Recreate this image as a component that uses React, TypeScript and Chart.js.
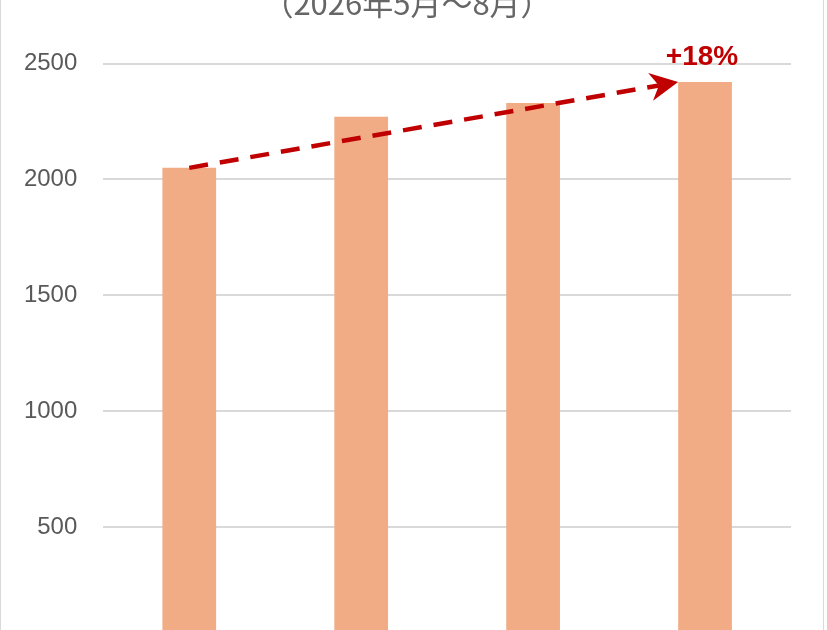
import { useEffect, useRef } from "react"
import { Chart, registerables } from "chart.js"
import type { Plugin } from "chart.js"

Chart.register(...registerables)

const months = ["5月", "6月", "7月", "8月"]
const sales = [2050, 2270, 2330, 2420]
const yMin = 0
const yMax = 2500
const yStep = 500
const titleText = "（2026年5月～8月）"
const growthLabel = "+18%"

const FONT = "'Liberation Sans', 'Noto Sans CJK JP', sans-serif"
const CJK_FONT = "'Noto Sans CJK JP', 'Liberation Sans', sans-serif"
const RED = "#C00000"

// dashed trend arrow from the first bar top to the last bar's left corner, plus the growth label
const growthArrow: Plugin<"bar"> = {
  id: "growthArrow",
  afterDatasetsDraw(chart) {
    const meta = chart.getDatasetMeta(0)
    const first = meta.data[0] as any
    const last = meta.data[meta.data.length - 1] as any
    if (!first || !last) return
    const ctx = chart.ctx
    const x0 = first.x
    const y0 = first.y
    const x1 = last.x - last.width / 2
    const y1 = last.y

    const len = Math.hypot(x1 - x0, y1 - y0)
    const dx = (x1 - x0) / len
    const dy = (y1 - y0) / len
    const nx = -dy
    const ny = dx
    const L = 28
    const W = 14
    const notchX = x1 - dx * L * 0.7
    const notchY = y1 - dy * L * 0.7

    ctx.save()
    ctx.strokeStyle = RED
    ctx.lineWidth = 4.5
    ctx.setLineDash([19, 12])
    ctx.beginPath()
    ctx.moveTo(x0, y0)
    ctx.lineTo(notchX, notchY)
    ctx.stroke()

    ctx.setLineDash([])
    ctx.fillStyle = RED
    ctx.beginPath()
    ctx.moveTo(x1, y1)
    ctx.lineTo(x1 - dx * L + nx * W, y1 - dy * L + ny * W)
    ctx.lineTo(notchX, notchY)
    ctx.lineTo(x1 - dx * L - nx * W, y1 - dy * L - ny * W)
    ctx.closePath()
    ctx.fill()

    ctx.font = `bold 28px ${FONT}`
    ctx.textAlign = "center"
    ctx.textBaseline = "alphabetic"
    ctx.fillText(growthLabel, last.x - 3, chart.scales.y.getPixelForValue(yMax) + 1)
    ctx.restore()
  },
}

function SalesChart() {
  const canvasRef = useRef<HTMLCanvasElement>(null)
  const chartRef = useRef<Chart | null>(null)

  useEffect(() => {
    if (!canvasRef.current) return
    if (chartRef.current) chartRef.current.destroy()

    chartRef.current = new Chart(canvasRef.current, {
      type: "bar",
      data: {
        labels: months,
        datasets: [
          {
            label: "売上",
            data: sales,
            backgroundColor: "#F1AC86",
            borderWidth: 0,
            barPercentage: 0.3125,
            categoryPercentage: 1,
          },
        ],
      },
      options: {
        animation: false,
        responsive: true,
        maintainAspectRatio: false,
        layout: { padding: { top: 0, left: 22, right: 32, bottom: 27.7 } },
        plugins: {
          legend: { display: false },
          tooltip: { enabled: false },
          title: {
            display: true,
            text: titleText,
            color: "#666666",
            font: { family: CJK_FONT, size: 31, weight: "normal", lineHeight: 1.2 },
            padding: { top: 33.5, bottom: 41.8 },
          },
        },
        scales: {
          x: {
            grid: { display: false, drawTicks: false },
            border: { color: "#D9D9D9", width: 2 },
            ticks: { color: "#595959", font: { family: CJK_FONT, size: 24 }, padding: 8 },
            afterFit: (s) => {
              s.height = 40
            },
          },
          y: {
            min: yMin,
            max: yMax,
            grid: { color: "#D9D9D9", lineWidth: 2, drawTicks: false },
            border: { display: false },
            ticks: {
              stepSize: yStep,
              color: "#595959",
              font: { family: FONT, size: 24 },
              padding: 26,
              callback: (v) => String(v),
            },
            afterFit: (s) => {
              s.width = 80.3
            },
          },
        },
      },
      plugins: [growthArrow],
    })

    return () => {
      if (chartRef.current) chartRef.current.destroy()
      chartRef.current = null
    }
  }, [])

  return <canvas ref={canvasRef} />
}

export default function App() {
  return (
    <div
      style={{
        position: "fixed",
        left: 0,
        top: 0,
        width: "100vw",
        height: "100vh",
        overflow: "hidden",
        background: "#fff",
      }}
    >
      <div
        style={{
          position: "absolute",
          left: 0,
          top: -50,
          width: 822,
          height: 760,
          border: "1px solid #D9D9D9",
          background: "#fff",
        }}
      >
        <SalesChart />
      </div>
    </div>
  )
}
